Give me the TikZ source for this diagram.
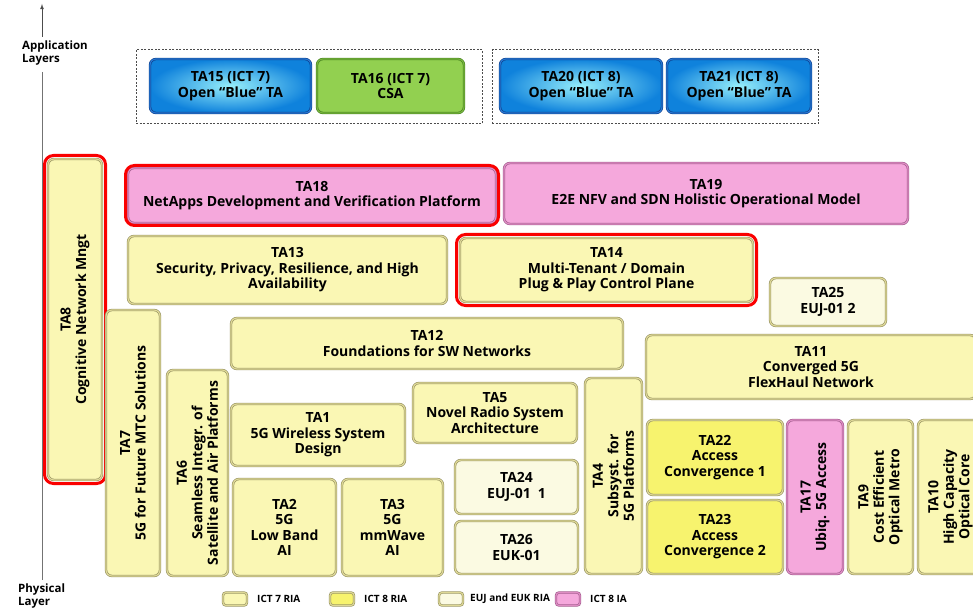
\documentclass[tikz,border=0pt]{standalone}
\usepackage{fontspec}
\setsansfont{Open Sans}
\usetikzlibrary{arrows}

\definecolor{ictsevenfill}{RGB}{250,247,180}
\definecolor{ictsevenline}{RGB}{150,146,96}
\definecolor{ictsevenrim}{RGB}{222,216,150}
\definecolor{icteightfill}{RGB}{247,243,110}
\definecolor{eujfill}{RGB}{251,250,226}
\definecolor{iafill}{RGB}{245,168,220}
\definecolor{ialine}{RGB}{160,90,140}
\definecolor{iarim}{RGB}{222,140,195}
\definecolor{csafill}{RGB}{146,208,80}
\definecolor{csaline}{RGB}{70,130,30}
\definecolor{csarim}{RGB}{118,180,60}
\definecolor{openline}{RGB}{10,60,140}
\definecolor{openrim}{RGB}{40,120,210}
\definecolor{openin}{RGB}{150,238,250}
\definecolor{openout}{RGB}{15,130,220}
\definecolor{hired}{RGB}{250,0,0}

\begin{document}
\begin{tikzpicture}[x=1pt,y=-1pt,>=latex,
tabox/.style={rounded corners=6pt,draw=ictsevenline,double=ictsevenrim,double distance=1.2pt,line width=0.6pt,inner sep=0pt,align=center,font=\sffamily\bfseries\fontsize{14}{15.5}\selectfont},
ict7/.style={tabox,fill=ictsevenfill},
ict8/.style={tabox,fill=icteightfill},
eubox/.style={tabox,fill=eujfill},
iabox/.style={tabox,fill=iafill,draw=ialine,double=iarim},
bluebox/.style={tabox,draw=openline,double=openrim,inner color=openin,outer color=openout},
csabox/.style={tabox,draw=csaline,double=csarim,fill=csafill},
hilite/.style={rounded corners=9pt,draw=hired,line width=3pt},
grpbox/.style={draw=black!70,line width=1pt,dash pattern=on 2pt off 1.5pt},
axlabel/.style={font=\sffamily\bfseries\fontsize{11.5}{12.5}\selectfont,align=left,inner sep=0pt},
legtext/.style={font=\sffamily\bfseries\fontsize{10}{11}\selectfont,inner sep=0pt,anchor=west}]
\useasboundingbox (0,0) rectangle (973,609);

\node[axlabel,anchor=north west] (app) at (22,41) {Application\\Layers};
\node[axlabel,anchor=north west] (phy) at (18,584) {Physical\\Layer};
\coordinate (axtop) at (42,4);
\coordinate (axapp) at (42,37);
\coordinate (axmid) at (42,72);
\coordinate (axbot) at (42,580);
\draw[->,black!70,line width=0.8pt] (axapp) -- (axtop);
\draw[black!55,line width=0.8pt] (axmid) -- (axbot);

\node[grpbox,minimum width=346,minimum height=74] (g7) at (309,87) {};
\node[grpbox,minimum width=326,minimum height=74] (g8) at (655,87) {};
\node[bluebox,minimum width=161,minimum height=54] (T15) at (230.5,86) {TA15 (ICT 7)\\Open “Blue” TA};
\node[csabox,minimum width=147,minimum height=54] (T16) at (390.5,86) {TA16 (ICT 7)\\CSA};
\node[bluebox,minimum width=162,minimum height=54] (T20) at (581,86) {TA20 (ICT 8)\\Open “Blue” TA};
\node[bluebox,minimum width=144,minimum height=54] (T21) at (739,86) {TA21 (ICT 8)\\Open “Blue” TA};

\node[iabox,minimum width=368,minimum height=55] (T18) at (312,195.5) {TA18\\NetApps Development and Verification Platform};
\node[hilite,minimum width=373,minimum height=60] (R18) at (T18) {};
\node[iabox,minimum width=404,minimum height=61] (T19) at (706,193.5) {TA19\\E2E NFV and SDN Holistic Operational Model};

\node[ict7,rotate=90,minimum width=321,minimum height=54] (T8) at (75,319.5) {TA8\\Cognitive Network Mngt};
\node[hilite,minimum width=61,minimum height=328] (R8) at (T8) {};

\node[ict7,minimum width=319,minimum height=68] (T13) at (287.5,270) {TA13\\Security, Privacy, Resilience, and High\\Availability};
\node[ict7,minimum width=293,minimum height=64] (T14) at (606.5,270) {TA14\\Multi-Tenant / Domain\\Plug \& Play Control Plane};
\node[hilite,minimum width=300,minimum height=71] (R14) at (T14) {};
\node[eubox,minimum width=116,minimum height=48] (T25) at (828,302) {TA25\\EUJ-01 2};

\node[ict7,rotate=90,minimum width=266,minimum height=54] (T7) at (133,443) {TA7\\5G for Future MTC Solutions};
\node[ict7,rotate=90,minimum width=206,minimum height=61] (T6) at (197.5,473) {TA6\\Seamless Integr. of\\Satellite and Air Platforms};
\node[ict7,minimum width=392,minimum height=51] (T12) at (427,343.5) {TA12\\Foundations for SW Networks};
\node[ict7,minimum width=330,minimum height=64] (T11) at (811,367) {TA11\\Converged 5G\\FlexHaul Network};

\node[ict7,minimum width=174,minimum height=62] (T1) at (318,435) {TA1\\5G Wireless System\\Design};
\node[ict7,minimum width=164,minimum height=60] (T5) at (495,413) {TA5\\Novel Radio System\\Architecture};
\node[eubox,minimum width=123,minimum height=54] (T24) at (516.5,487) {TA24\\EUJ-01\enspace 1};
\node[eubox,minimum width=123,minimum height=53] (T26) at (516.5,547.5) {TA26\\EUK-01};
\node[ict7,minimum width=103,minimum height=97] (T2) at (284.5,527.5) {TA2\\5G\\Low Band\\AI};
\node[ict7,minimum width=101,minimum height=97] (T3) at (392.5,527.5) {TA3\\5G\\mmWave\\AI};
\node[ict7,rotate=90,minimum width=196,minimum height=57] (T4) at (613.5,476) {TA4\\Subsyst. for\\5G Platforms};

\node[ict8,minimum width=136,minimum height=75] (T22) at (715,457.5) {TA22\\Access\\Convergence 1};
\node[ict8,minimum width=136,minimum height=74] (T23) at (715,537) {TA23\\Access\\Convergence 2};
\node[iabox,rotate=90,minimum width=154,minimum height=56] (T17) at (815,497) {TA17\\Ubiq. 5G Access};
\node[ict7,rotate=90,minimum width=154,minimum height=65] (T9) at (880.5,497) {TA9\\Cost Efficient\\Optical Metro};
\node[ict7,rotate=90,minimum width=154,minimum height=65] (T10) at (950.5,497) {TA10\\High Capacity\\Optical Core};

\node[ict7,rounded corners=3pt,minimum width=24,minimum height=13] (s7) at (235,599) {};
\node[legtext] (l7) at (257,599) {ICT 7 RIA};
\node[ict8,rounded corners=3pt,minimum width=24,minimum height=13] (s8) at (342,599) {};
\node[legtext] (l8) at (364,599) {ICT 8 RIA};
\node[eubox,rounded corners=3pt,minimum width=24,minimum height=13] (se) at (451,599) {};
\node[legtext] (le) at (470,599) {EUJ and EUK RIA};
\node[iabox,rounded corners=3pt,minimum width=24,minimum height=13] (si) at (568,599) {};
\node[legtext] (li) at (590,599) {ICT 8 IA};
\end{tikzpicture}
\end{document}
